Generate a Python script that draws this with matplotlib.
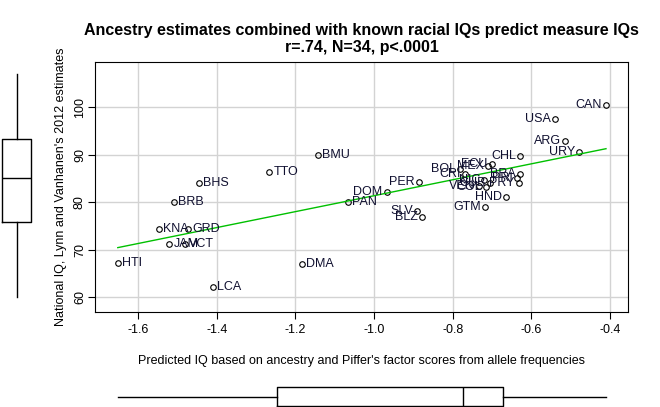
import matplotlib
matplotlib.use("Agg")
import matplotlib.pyplot as plt
import numpy as np

plt.rcParams["font.family"] = ["Liberation Sans", "DejaVu Sans"]

# country codes, predicted IQ (x) and national IQ (y)
codes = ["HTI", "LCA", "DMA", "KNA", "GRD", "JAM", "VCT", "BRB", "BHS", "TTO",
         "BMU", "PAN", "DOM", "PER", "SLV", "BLZ", "BOL", "CRI", "VEN", "NIC",
         "GTM", "COL", "MEX", "CUB", "ECU", "HND", "PRI", "PRY", "BRA", "CHL",
         "USA", "ARG", "URY", "CAN"]
pred = [-1.652, -1.410, -1.184, -1.547, -1.474, -1.521, -1.481, -1.509, -1.446, -1.267,
        -1.142, -1.066, -0.968, -0.885, -0.890, -0.879, -0.781, -0.768, -0.733, -0.720,
        -0.718, -0.715, -0.710, -0.705, -0.700, -0.664, -0.636, -0.632, -0.628, -0.628,
        -0.540, -0.514, -0.478, -0.410]
iq = [67.2, 62.2, 67.0, 74.3, 74.3, 71.3, 71.3, 80.1, 84.1, 86.4,
      90.0, 80.1, 82.1, 84.2, 78.2, 76.8, 87.0, 85.9, 83.4, 84.7,
      79.0, 83.3, 87.7, 84.1, 88.1, 81.0, 85.1, 84.1, 85.9, 89.8,
      97.5, 92.8, 90.6, 100.5]

# marginal boxplot of the y variable as drawn
ybox = {"whislo": 60.1, "q1": 75.8, "med": 85.0, "q3": 93.3, "whishi": 107.0}

title = "Ancestry estimates combined with known racial IQs predict measure IQs\nr=.74, N=34, p<.0001"
xlab = "Predicted IQ based on ancestry and Piffer's factor scores from allele frequencies"
ylab = "National IQ, Lynn and Vanhanen's 2012 estimates"

W, H = 660, 407
fig = plt.figure(figsize=(W / 100, H / 100), dpi=100)


def frac(x0, y0, x1, y1):
    return [x0 / W, 1 - y1 / H, (x1 - x0) / W, (y1 - y0) / H]


ax = fig.add_axes(frac(95, 62, 628, 312))
x = np.array(pred)
y = np.array(iq)

ax.set_xlim(-1.710, -0.354)
ax.set_ylim(56.9, 109.5)
ax.set_xticks([-1.6, -1.4, -1.2, -1.0, -0.8, -0.6, -0.4])
ax.set_xticklabels(["-1.6", "-1.4", "-1.2", "-1.0", "-0.8", "-0.6", "-0.4"])
ax.set_yticks([60, 70, 80, 90, 100])
ax.grid(True, color="#d3d3d3", lw=1)
ax.set_axisbelow(True)
ax.tick_params(labelsize=9, length=5, direction="out")
ax.tick_params(axis="y", pad=1.5)
for lab in ax.get_yticklabels():
    lab.set_rotation(90)
    lab.set_va("center")

ax.plot(x, y, "o", ms=4, mfc="none", mec="black", mew=0.8)

k, b = np.polyfit(x, y, 1)
xs = np.array([x.min(), x.max()])
ax.plot(xs, k * xs + b, color="#00c000", lw=1)

for c, xi, yi in zip(codes, pred, iq):
    if xi < -1.0:
        ax.annotate(c, (xi, yi), xytext=(3, 0), textcoords="offset points",
                    ha="left", va="center", fontsize=9, color="#101030")
    else:
        ax.annotate(c, (xi, yi), xytext=(-3, 0), textcoords="offset points",
                    ha="right", va="center", fontsize=9, color="#101030")

ax.set_title(title, fontsize=11.5, fontweight="bold", pad=7, linespacing=1.2)
ax.set_xlabel(xlab, fontsize=9, labelpad=14)
ax.set_ylabel(ylab, fontsize=9)
ax.yaxis.set_label_coords(-0.052, 0.5)

# bottom boxplot (x variable)
bx = fig.add_axes(frac(95, 385, 628, 408))
bx.boxplot(x, vert=False, positions=[0], widths=0.8, whis=(0, 100),
           medianprops=dict(color="black", lw=1), boxprops=dict(lw=1),
           whiskerprops=dict(lw=1, ls="-"), capprops=dict(lw=0),
           showfliers=False)
bx.set_xlim(ax.get_xlim())
bx.set_ylim(-0.5, 0.5)
bx.axis("off")

# left boxplot (y variable)
lx = fig.add_axes(frac(-2, 62, 35, 312))
stats = [dict(ybox, fliers=[])]
lx.bxp(stats, positions=[0], widths=0.8, vert=True, showfliers=False,
       medianprops=dict(color="black", lw=1), boxprops=dict(lw=1),
       whiskerprops=dict(lw=1, ls="-"), capprops=dict(lw=0))
lx.set_ylim(ax.get_ylim())
lx.set_xlim(-0.5, 0.5)
lx.axis("off")

fig.savefig("out.png", dpi=100)
